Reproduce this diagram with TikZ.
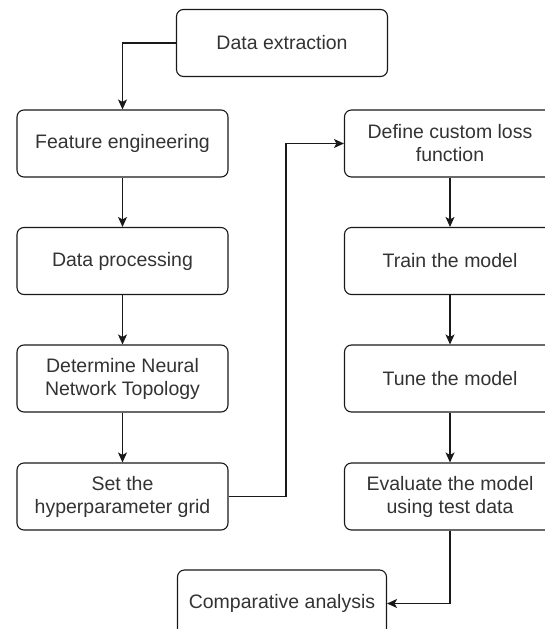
\documentclass[tikz,border=0pt]{standalone}
\usepackage{fontspec}
\setmainfont{Liberation Sans}
\usetikzlibrary{arrows.meta}
\begin{document}
\begin{tikzpicture}[x=1pt,y=-1pt,
  box/.style={draw=black!90, line width=1.1pt, rounded corners=7pt, fill=white,
    minimum width=211pt, minimum height=67pt, inner sep=0pt, align=center,
    text=black!80, font=\fontsize{19.5}{23}\selectfont},
  arr/.style={draw=black!90, line width=1.1pt, -{Stealth[length=10pt,width=9pt,inset=2.5pt]}}]
\useasboundingbox (0,0) rectangle (545,629);
\clip (0,0) rectangle (545,629);
\node[box] (ext) at (282,43) {Data extraction};
\node[box] (fe) at (122.5,143.5) {Feature engineering};
\node[box] (dp) at (122.5,261) {Data processing};
\node[box] (nn) at (122.5,378.5) {Determine Neural\\Network Topology};
\node[box] (hp) at (122.5,496.5) {Set the\\hyperparameter grid};
\node[box] (loss) at (450,143.5) {Define custom loss\\function};
\node[box] (train) at (450,261) {Train the model};
\node[box] (tune) at (450,378.5) {Tune the model};
\node[box] (eval) at (450,496.5) {Evaluate the model\\using test data};
\node[box, minimum width=209pt] (comp) at (282,603.5) {Comparative analysis};
\coordinate (hpturn) at (286,496.5);
\draw[arr] (ext.west) -| (fe.north);
\draw[arr] (fe) -- (dp);
\draw[arr] (dp) -- (nn);
\draw[arr] (nn) -- (hp);
\draw[arr] (hp.east) -- (hpturn) |- (loss.west);
\draw[arr] (loss) -- (train);
\draw[arr] (train) -- (tune);
\draw[arr] (tune) -- (eval);
\draw[arr] (eval.south) |- (comp.east);
\end{tikzpicture}
\end{document}
